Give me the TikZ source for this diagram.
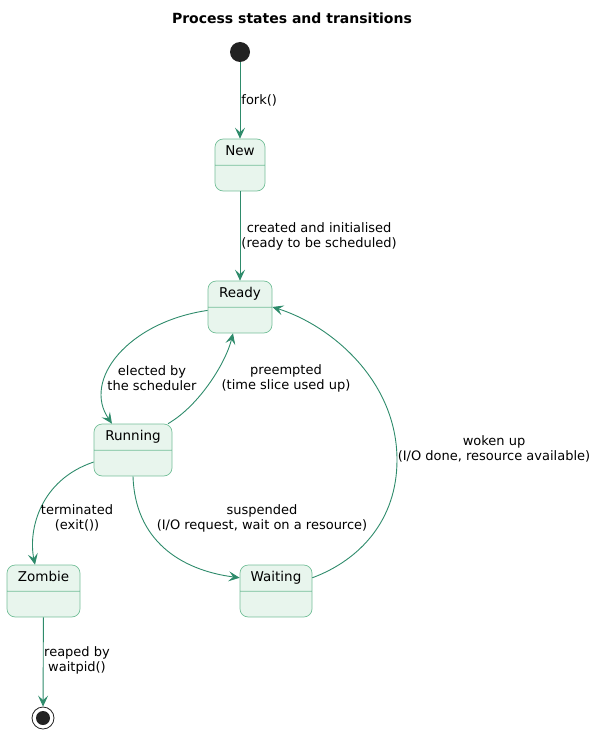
\documentclass[tikz,border=0pt]{standalone}
\usepackage{fontspec}
\setmainfont{DejaVu Sans}
\usetikzlibrary{arrows.meta,shapes.multipart}
\definecolor{statefill}{RGB}{232,245,237}
\definecolor{stateline}{RGB}{116,191,153}
\definecolor{transcol}{RGB}{46,139,107}
\definecolor{dotcol}{RGB}{34,34,34}

\begin{document}
\begin{tikzpicture}[x=1pt,y=-1pt,
    state/.style={rectangle split,rectangle split parts=2,draw=stateline,fill=statefill,
        line width=0.7pt,rounded corners=8pt,inner ysep=6pt,
        text height=10.5pt,text depth=3pt,
        rectangle split empty part height=10pt,rectangle split empty part depth=3pt,
        font=\fontsize{13.5}{15}\selectfont},
    trans/.style={draw=transcol,line width=0.9pt,-{Stealth[length=11pt,width=10pt,inset=4.5pt]}},
    lbl/.style={align=center,inner sep=1pt,font=\fontsize{13}{15}\selectfont}]
    \useasboundingbox (0,0) rectangle (597,735);
    \node[font=\fontsize{14}{16}\selectfont\bfseries] (title) at (292,18) {Process states and transitions};
    % states
    \node[circle,fill=dotcol,minimum size=20pt,inner sep=0pt] (start) at (240,52) {};
    \node[state,minimum width=50pt] (new) at (240,165) {New\nodepart{two}};
    \node[state,minimum width=64pt] (ready) at (240,307) {Ready\nodepart{two}};
    \node[state,minimum width=78pt] (running) at (133,450) {Running\nodepart{two}};
    \node[state,minimum width=73pt] (zombie) at (43.5,591) {Zombie\nodepart{two}};
    \node[state,minimum width=72pt] (waiting) at (276,591) {Waiting\nodepart{two}};
    \node[circle,draw=dotcol,fill=white,line width=0.8pt,minimum size=22pt,inner sep=0pt] (stop) at (43,718) {};
    \fill[dotcol] (stop) circle (7pt);
    % transitions
    \draw[trans] (start) -- node[right,lbl]{fork()} (new);
    \draw[trans] (new) -- node[right,lbl]{created and initialised\\(ready to be scheduled)} (ready);
    \draw[trans] (ready.186) .. controls (128,322) and (82,380) .. (running.north west -| 112,0);
    \node[lbl] (elected) at (152,378) {elected by\\the scheduler};
    \draw[trans] (running.north east -| 168,0) .. controls (200,405) and (226,362) .. (ready.south west -| 233,0);
    \node[lbl] (preempted) at (286,378) {preempted\\(time slice used up)};
    \draw[trans] (running.197) .. controls (40,480) and (28,530) .. (zombie.north west -| 35,0);
    \node[lbl] (terminated) at (77,518) {terminated\\(exit())};
    \draw[trans] (running.south) .. controls (135,540) and (180,570) .. (waiting.160);
    \node[lbl] (suspended) at (262,518) {suspended\\(I/O request, wait on a resource)};
    \draw[trans] (waiting.20) .. controls (360,560) and (397,520) .. (397,460)
        .. controls (397,380) and (330,325) .. (ready.east);
    \node[lbl] (woken) at (494,449) {woken up\\(I/O done, resource available)};
    \draw[trans] (zombie) -- (stop);
    \node[lbl] (reaped) at (77,660) {reaped by\\waitpid()};
\end{tikzpicture}
\end{document}
